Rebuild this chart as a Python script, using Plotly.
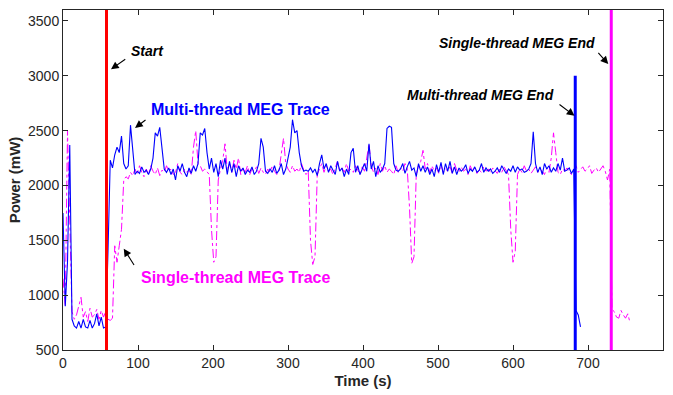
import plotly.graph_objects as go

# Multi-thread MEG trace (blue), sampled every 3 s starting at t = 0
multi_power = [
    1750, 900, 1300, 2370, 780, 720, 700, 760, 700, 780,
    710, 700, 770, 700, 740, 830, 720, 800, 700, 710,
    1400, 2230, 2160, 2280, 2350, 2300, 2450, 2200, 2150, 2180,
    2550, 2300, 2100, 2130, 2110, 2170, 2120, 2140, 2100, 2150,
    2250, 2480, 2450, 2530, 2350, 2150, 2120, 2160, 2100, 2150,
    2050, 2180, 2130, 2200, 2120, 2080, 2160, 2110, 2180, 2130,
    2200, 2480, 2460, 2520, 2300, 2150, 2250, 2120, 2200, 2080,
    2230, 2150, 2250, 2100, 2220, 2120, 2200, 2080, 2180, 2130,
    2160, 2100, 2140, 2120, 2170, 2100, 2130, 2200, 2430, 2350,
    2130, 2110, 2150, 2120, 2180, 2110, 2140, 2200, 2100, 2150,
    2250, 2350, 2600, 2480, 2500, 2300, 2180, 2130, 2140, 2130,
    2160, 2120, 2150, 2090, 2200, 2280, 2150, 2200, 2120, 2180,
    2140, 2100, 2220, 2130, 2160, 2080, 2150, 2100, 2300, 2340,
    2120, 2180, 2100, 2150, 2200, 2130, 2380, 2150, 2220, 2080,
    2180, 2120, 2150, 2200, 2520, 2540, 2530, 2200, 2140, 2130,
    2150, 2200, 2110, 2170, 2220, 2140, 2160, 2080, 2200, 2130,
    2180, 2120, 2170, 2100, 2150, 2080, 2190, 2120, 2210, 2100,
    2200, 2130, 2220, 2110, 2170, 2100, 2160, 2130, 2150, 2190,
    2110, 2150, 2130, 2170, 2120, 2140, 2200, 2120, 2160, 2130,
    2150, 2110, 2130, 2160, 2120, 2180, 2140, 2110, 2150, 2130,
    2180, 2120, 2170, 2140, 2150, 2120, 2130, 2150, 2200, 2490,
    2200, 2120, 2170, 2100, 2200, 2150, 2180, 2120, 2160, 2130,
    2200, 2140, 2250, 2130, 2140, 2160, 2110, 2150, 860, 820,
    710,
]

# Single-thread MEG trace (magenta), sampled every 3 s starting at t = 0
single_power = [
    1150, 900, 2500, 1700, 850, 780, 820, 900, 980, 800,
    850, 760, 880, 800, 820, 870, 780, 860, 800, 850,
    780, 770, 790, 1450, 1300, 1450, 1600, 2050, 2080, 2060,
    2120, 2090, 2150, 2100, 2180, 2120, 2080, 2150, 2100, 2180,
    2130, 2100, 2160, 2090, 2140, 2120, 2180, 2130, 2150, 2100,
    2120, 2200, 2120, 2100, 2150, 2120, 2140, 2100, 2350, 2500,
    2200, 2180, 2130, 2150, 2120, 2100, 1600, 1300, 1350, 2050,
    2150, 2230, 2380, 2140, 2200, 2120, 2230, 2150, 2250, 2100,
    2160, 2120, 2180, 2100, 2150, 2130, 2170, 2110, 2160, 2120,
    2100, 2150, 2120, 2180, 2130, 2100, 2140, 2300, 2430, 2200,
    2150, 2120, 2180, 2130, 2150, 2120, 2200, 2140, 2100, 2130,
    1500, 1280, 1350, 2100, 2150, 2200, 2120, 2180, 2130, 2150,
    2100, 2170, 2220, 2130, 2160, 2120, 2200, 2130, 2150, 2120,
    2180, 2140, 2100, 2170, 2130, 2250, 2380, 2180, 2120, 2160,
    2100, 2200, 2130, 2180, 2120, 2150, 2130, 2100, 2180, 2120,
    2160, 2130, 2200, 2150, 1800, 1290, 1350, 2100, 2180, 2220,
    2320, 2150, 2200, 2120, 2180, 2130, 2160, 2110, 2190, 2120,
    2150, 2130, 2170, 2110, 2200, 2140, 2120, 2170, 2130, 2150,
    2100, 2180, 2130, 2160, 2110, 2140, 2120, 2170, 2130, 2150,
    2120, 2160, 2130, 2110, 2150, 2120, 2170, 2130, 2100, 1600,
    1300, 1400, 2100, 2150, 2120, 2180, 2130, 2150, 2110, 2140,
    2170, 2120, 2150, 2130, 2100, 2160, 2120, 2250, 2480, 2300,
    2120, 2100, 2150, 2130, 2160, 2120, 2100, 2140, 2180, 2120,
    2150, 2170, 2130, 2150, 2180, 2110, 2140, 2160, 2120, 2150,
    2180, 2130, 2050, 2150, 870, 850, 800, 790, 860, 820,
    790, 830, 750,
]

sample_step = 3  # seconds between samples
multi_time = [sample_step * i for i in range(len(multi_power))]
single_time = [sample_step * i for i in range(len(single_power))]

# Event markers (vertical lines)
event_names = ["Start", "Multi-thread MEG End", "Single-thread MEG End"]
event_times = [58, 683, 731]
event_bottoms = [500, 500, 500]
event_tops = [3600, 3000, 3600]
event_colors = ["#FF0000", "#0000FF", "#FF00FF"]

fig = go.Figure()

fig.add_trace(go.Scatter(
    x=single_time, y=single_power, mode="lines",
    line=dict(color="#FF00FF", width=1, dash="dashdot"),
    name="Single-thread MEG Trace", showlegend=False,
))
fig.add_trace(go.Scatter(
    x=multi_time, y=multi_power, mode="lines",
    line=dict(color="#0000FF", width=1.1),
    name="Multi-thread MEG Trace", showlegend=False,
))
for name, t, b, top, c in zip(event_names, event_times, event_bottoms, event_tops, event_colors):
    fig.add_trace(go.Scatter(
        x=[t, t], y=[b, top], mode="lines",
        line=dict(color=c, width=3), name=name, showlegend=False,
    ))

FONT = "Liberation Sans, Arial, sans-serif"

def label(text, x, y, color, size, italic=False):
    txt = f"<b><i>{text}</i></b>" if italic else f"<b>{text}</b>"
    fig.add_annotation(x=x, y=y, xref="x", yref="y", text=txt, showarrow=False,
                       font=dict(family=FONT, size=size, color=color),
                       xanchor="center", yanchor="middle")

def arrow(head, tail):
    fig.add_annotation(x=head[0], y=head[1], ax=tail[0], ay=tail[1],
                       xref="x", yref="y", axref="x", ayref="y",
                       text="", showarrow=True, arrowhead=2, arrowsize=1.4,
                       arrowwidth=1.1, arrowcolor="black", standoff=0, startstandoff=0)

label("Start", 112, 3222, "black", 14, italic=True)
arrow((64, 3060), (85, 3160))

label("Multi-thread MEG Trace", 237, 2695, "#0000FF", 16)
arrow((96, 2525), (112, 2607))

label("Single-thread MEG Trace", 230, 1159, "#FF00FF", 16)
arrow((81, 1424), (96, 1262))

label("Multi-thread MEG End", 557, 2822, "black", 14, italic=True)
arrow((682, 2635), (660, 2749))

label("Single-thread MEG End", 605, 3303, "black", 14, italic=True)
arrow((727, 3107), (712, 3222))

axis_common = dict(
    showgrid=False, zeroline=False, showline=True, linecolor="#262626", linewidth=1,
    mirror="ticks", ticks="inside", ticklen=5, tickcolor="#262626",
    tickfont=dict(family=FONT, size=14, color="#262626"),
)

fig.update_xaxes(range=[0, 800], dtick=100, tick0=0,
                 title=dict(text="<b>Time (s)</b>", font=dict(family=FONT, size=15, color="#262626"), standoff=5),
                 **axis_common)
fig.update_yaxes(range=[500, 3600], dtick=500, tick0=500,
                 title=dict(text="<b>Power (mW)</b>", font=dict(family=FONT, size=15, color="#262626"), standoff=3),
                 **axis_common)

fig.update_layout(
    width=673, height=395,
    margin=dict(l=63, r=10, t=9, b=44),
    paper_bgcolor="white", plot_bgcolor="white",
    font=dict(family=FONT),
)

fig.write_html("out.html")
